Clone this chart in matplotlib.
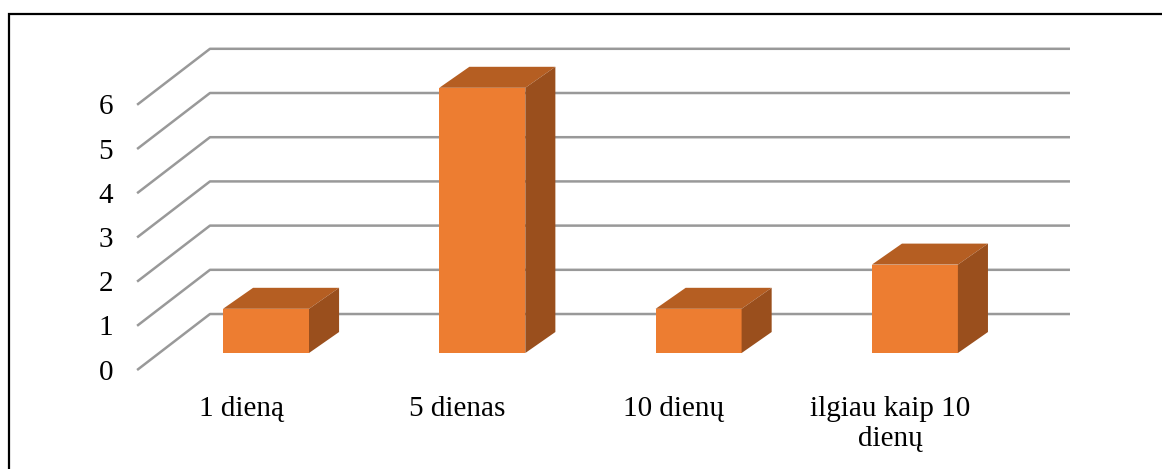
import matplotlib.pyplot as plt
from matplotlib.patches import Polygon, Rectangle

# Duomenys
categories = ['1 dieną', '5 dienas', '10 dienų', 'ilgiau kaip 10\ndienų']
values = [1, 6, 1, 2]
y_ticks = [0, 1, 2, 3, 4, 5, 6]

# Spalvos
front_col = '#ED7D31'
top_col = '#B55E22'
side_col = '#9A4F1D'
grid_col = '#999999'

# 3D imitacijos parametrai (duomenų vienetais)
bar_w = 0.3976
dx, dy = 0.139, 0.475          # stulpelio gylis
wall_x0, wall_x1 = -0.259, 3.717
floor_front_x, floor_front_y = -0.596, -0.385
wall_y = 0.882

plt.rcParams['font.family'] = ['Liberation Serif', 'DejaVu Serif']

fig = plt.figure(figsize=(11.62, 4.69), dpi=100)
ax = fig.add_axes([0, 0, 1, 1])
ax.set_xlim(-1.2298, 4.1424)
ax.set_ylim(-2.624, 7.986)
ax.axis('off')

# Tinklelio linijos: įstrižos + galinė siena
for v in y_ticks:
    ax.plot([floor_front_x, wall_x0, wall_x1],
            [floor_front_y + v, wall_y + v, wall_y + v],
            color=grid_col, lw=1.8, zorder=1, solid_capstyle='butt')
    ax.text(-0.707, floor_front_y + v - 0.06, str(v), ha='right', va='center',
            fontsize=21, color='black')

# Stulpeliai
xs = list(range(len(values)))
ax.bar(xs, values, width=bar_w, color=front_col, zorder=3)
for x, v in zip(xs, values):
    l, r = x - bar_w / 2, x + bar_w / 2
    top = Polygon([(l, v), (r, v), (r + dx, v + dy), (l + dx, v + dy)],
                  closed=True, facecolor=top_col, edgecolor='none', zorder=3)
    side = Polygon([(r, 0), (r, v), (r + dx, v + dy), (r + dx, dy)],
                   closed=True, facecolor=side_col, edgecolor='none', zorder=3)
    ax.add_patch(top)
    ax.add_patch(side)

# Kategorijų pavadinimai
for x, lab in zip(xs, categories):
    ax.text(x - 0.115, -0.97, lab, ha='center', va='top', fontsize=21,
            linespacing=1.2, color='black')

# Rėmelis
fig.patches.append(Rectangle((9 / 1162, -0.1), 1.2, (469 - 14) / 469 + 0.1,
                             transform=fig.transFigure, fill=False,
                             edgecolor='black', lw=1.6))

fig.savefig('out.png', dpi=100)
